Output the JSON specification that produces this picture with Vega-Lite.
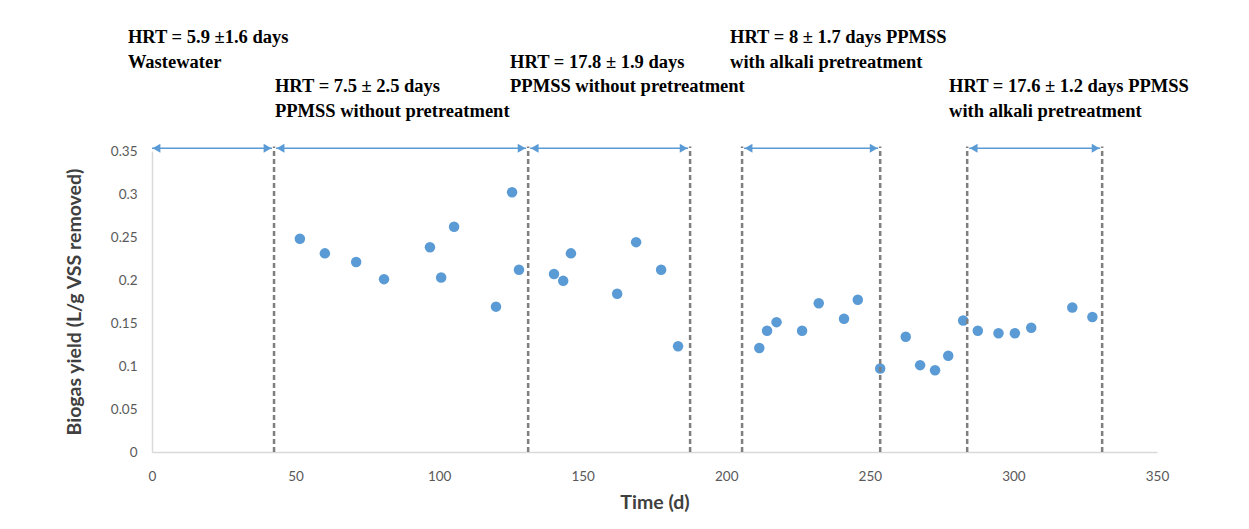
{
  "$schema": "https://vega.github.io/schema/vega-lite/v6.json",
  "width": 1005,
  "height": 301,
  "autosize": {"type": "none"},
  "padding": {"left": 152, "top": 151, "right": 92, "bottom": 77},
  "background": "white",
  "config": {
    "view": {"stroke": null},
    "axis": {"grid": false, "ticks": false, "labelFlush": false, "domainColor": "#D9D9D9", "domainWidth": 1.5, "labelColor": "#595959", "labelFont": "Lato", "labelFontSize": 13.5, "titleFont": "Lato", "titleFontWeight": "bold", "titleColor": "#404040", "titleFontSize": 19.5}
  },
  "datasets": {
    "points": [
      {"time": 51.5, "yield": 0.248},
      {"time": 60.2, "yield": 0.231},
      {"time": 71.1, "yield": 0.221},
      {"time": 80.8, "yield": 0.201},
      {"time": 96.8, "yield": 0.238},
      {"time": 100.7, "yield": 0.203},
      {"time": 105.2, "yield": 0.262},
      {"time": 119.8, "yield": 0.169},
      {"time": 125.4, "yield": 0.302},
      {"time": 127.8, "yield": 0.212},
      {"time": 140.0, "yield": 0.207},
      {"time": 143.2, "yield": 0.199},
      {"time": 145.9, "yield": 0.231},
      {"time": 162.0, "yield": 0.184},
      {"time": 168.6, "yield": 0.244},
      {"time": 177.3, "yield": 0.212},
      {"time": 183.2, "yield": 0.123},
      {"time": 211.5, "yield": 0.121},
      {"time": 214.2, "yield": 0.141},
      {"time": 217.5, "yield": 0.151},
      {"time": 226.4, "yield": 0.141},
      {"time": 232.2, "yield": 0.173},
      {"time": 241.0, "yield": 0.155},
      {"time": 245.8, "yield": 0.177},
      {"time": 253.6, "yield": 0.097},
      {"time": 262.5, "yield": 0.134},
      {"time": 267.5, "yield": 0.101},
      {"time": 272.7, "yield": 0.095},
      {"time": 277.3, "yield": 0.112},
      {"time": 282.5, "yield": 0.153},
      {"time": 287.6, "yield": 0.141},
      {"time": 294.8, "yield": 0.138},
      {"time": 300.5, "yield": 0.138},
      {"time": 306.2, "yield": 0.1445},
      {"time": 320.5, "yield": 0.168},
      {"time": 327.5, "yield": 0.157}
    ],
    "vlines": [
      {"time": 42.5, "y0": 0, "y1": 0.3552},
      {"time": 131.0, "y0": 0, "y1": 0.3552},
      {"time": 187.4, "y0": 0, "y1": 0.3552},
      {"time": 205.5, "y0": 0, "y1": 0.3552},
      {"time": 253.6, "y0": 0, "y1": 0.3552},
      {"time": 283.9, "y0": 0, "y1": 0.3552},
      {"time": 330.9, "y0": 0, "y1": 0.3552}
    ],
    "arrows": [
      {"start": 0, "end": 41.8, "level": 0.3531},
      {"start": 43.2, "end": 130.3, "level": 0.3531},
      {"start": 131.7, "end": 186.7, "level": 0.3531},
      {"start": 206.2, "end": 252.9, "level": 0.3531},
      {"start": 284.6, "end": 330.2, "level": 0.3531}
    ],
    "labels": [
      {"time": -8.4, "level": 0.4756, "text": "HRT = 5.9 ±1.6 days"},
      {"time": -8.4, "level": 0.4465, "text": "Wastewater"},
      {"time": 42.8, "level": 0.4186, "text": "HRT = 7.5 ± 2.5 days"},
      {"time": 42.8, "level": 0.3895, "text": "PPMSS without pretreatment"},
      {"time": 124.7, "level": 0.4465, "text": "HRT = 17.8 ± 1.9 days"},
      {"time": 124.7, "level": 0.4186, "text": "PPMSS without pretreatment"},
      {"time": 201.3, "level": 0.4756, "text": "HRT = 8 ± 1.7 days PPMSS"},
      {"time": 201.3, "level": 0.4465, "text": "with alkali pretreatment"},
      {"time": 277.6, "level": 0.4186, "text": "HRT = 17.6 ± 1.2 days PPMSS"},
      {"time": 277.6, "level": 0.3895, "text": "with alkali pretreatment"}
    ]
  },
  "layer": [
    {
      "data": {"name": "points"},
      "mark": {"type": "circle", "size": 110, "color": "#5B9BD5", "opacity": 1},
      "encoding": {
        "x": {"field": "time", "type": "quantitative", "scale": {"domain": [0, 350], "nice": false, "zero": false},
              "axis": {"values": [0, 50, 100, 150, 200, 250, 300, 350], "format": "d", "title": "Time (d)", "labelPadding": 17, "titlePadding": 11}},
        "y": {"field": "yield", "type": "quantitative", "scale": {"domain": [0, 0.35], "nice": false},
              "axis": {"values": [0, 0.05, 0.1, 0.15, 0.2, 0.25, 0.3, 0.35], "format": "~g", "title": "Biogas yield (L/g VSS removed)", "labelPadding": 15, "titlePadding": 26}}
      }
    },
    {
      "data": {"name": "vlines"},
      "mark": {"type": "rule", "color": "#7F7F7F", "strokeWidth": 2.5, "strokeDash": [5, 3]},
      "encoding": {
        "x": {"field": "time", "type": "quantitative"},
        "y": {"field": "y0", "type": "quantitative"},
        "y2": {"field": "y1"}
      }
    },
    {
      "data": {"name": "arrows"},
      "mark": {"type": "rule", "color": "#5B9BD5", "strokeWidth": 1.5},
      "encoding": {
        "x": {"field": "start", "type": "quantitative"},
        "x2": {"field": "end"},
        "y": {"field": "level", "type": "quantitative"}
      }
    },
    {
      "data": {"name": "arrows"},
      "mark": {"type": "point", "shape": "triangle-left", "filled": true, "size": 80, "color": "#5B9BD5", "opacity": 1, "xOffset": 4.5},
      "encoding": {
        "x": {"field": "start", "type": "quantitative"},
        "y": {"field": "level", "type": "quantitative"}
      }
    },
    {
      "data": {"name": "arrows"},
      "mark": {"type": "point", "shape": "triangle-right", "filled": true, "size": 80, "color": "#5B9BD5", "opacity": 1, "xOffset": -4.5},
      "encoding": {
        "x": {"field": "end", "type": "quantitative"},
        "y": {"field": "level", "type": "quantitative"}
      }
    },
    {
      "data": {"name": "labels"},
      "mark": {"type": "text", "align": "left", "baseline": "alphabetic", "font": "Liberation Serif", "fontWeight": "bold", "fontSize": 18.5, "color": "black"},
      "encoding": {
        "x": {"field": "time", "type": "quantitative"},
        "y": {"field": "level", "type": "quantitative"},
        "text": {"field": "text"}
      }
    }
  ]
}
